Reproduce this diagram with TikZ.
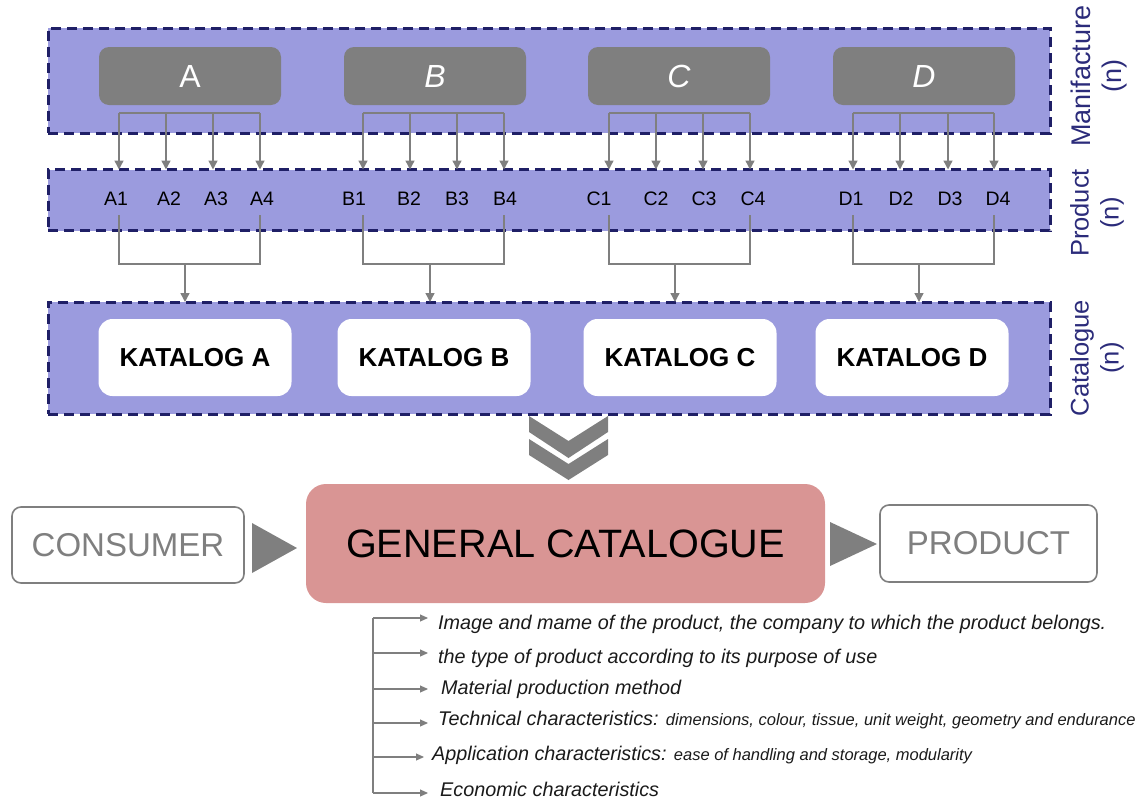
\documentclass[tikz,border=0pt]{standalone}
\usepackage{fontspec}
\setmainfont{Liberation Sans}
\usetikzlibrary{arrows.meta}
\definecolor{bandfill}{HTML}{9B9BDE}
\definecolor{navy}{HTML}{1F1F66}
\definecolor{boxgray}{HTML}{7F7F7F}
\definecolor{pinkfill}{HTML}{D99594}
\definecolor{sideblue}{HTML}{2B2B7A}
\definecolor{txt}{HTML}{1A1A1A}
\newcommand\smtxt[1]{{\fontsize{16.5}{19}\selectfont #1}}
\begin{document}
\begin{tikzpicture}[x=1pt,y=-1pt,
  band/.style={fill=bandfill, draw=navy, line width=3pt, dash pattern=on 10pt off 6pt, inner sep=0pt, minimum width=1002pt},
  mbox/.style={fill=boxgray, rounded corners=10pt, text=white, minimum width=182pt, minimum height=58pt, inner sep=0pt, font=\fontsize{32}{38}\selectfont},
  plbl/.style={anchor=base, inner sep=0pt, text=black, font=\fontsize{19.5}{23}\selectfont},
  conn/.style={draw=boxgray, line width=1.4pt},
  arr/.style={conn, -{Triangle[width=9pt,length=9pt]}},
  sarr/.style={conn, line width=1.1pt, -{Triangle[width=7pt,length=8pt]}},
  kbox/.style={fill=white, rounded corners=14pt, minimum width=193pt, minimum height=77pt, inner sep=0pt, text=black, font=\fontsize{26}{30}\selectfont\bfseries},
  side/.style={rotate=90, align=center, text=sideblue, font=\fontsize{25.5}{30}\selectfont},
  obox/.style={draw=boxgray, line width=1.6pt, fill=white, rounded corners=9pt, text=boxgray, inner sep=0pt, font=\fontsize{33}{38}\selectfont},
  item/.style={anchor=base west, inner sep=0pt, text=txt, font=\fontsize{19.8}{23}\selectfont\itshape}
]
\useasboundingbox (0,0) rectangle (1136,801);

% bands
\node[band, minimum height=105pt] (manband) at (549,80.5) {};
\node[band, minimum height=61pt] (prodband) at (549,200) {};
\node[band, minimum height=112pt] (catband) at (549,358) {};

% side labels
\node[side, font=\fontsize{27}{31}\selectfont] (lman) at (1099,76) {Manifacture\\(n)};
\node[side] (lprod) at (1097,213) {Product\\(n)};
\node[side] (lcat) at (1097,358) {Catalogue\\(n)};

% manufacturer boxes
\node[mbox] (A) at (190,76) {A};
\node[mbox] (B) at (435,76) {\itshape B};
\node[mbox] (C) at (679,76) {\itshape C};
\node[mbox] (D) at (924,76) {\itshape D};

% product labels
\foreach \n/\x in {A1/116,A2/169,A3/216,A4/262,B1/354,B2/409,B3/457,B4/505,C1/599,C2/656,C3/704,C4/753,D1/851,D2/901,D3/950,D4/998}
  \node[plbl] (\n) at (\x,205) {\n};

% fork coordinates and arrows
\foreach \L/\a/\b/\c/\d/\m in {A/119/166/213/260/185,B/363/410/457/504/430,C/609/656/703/750/675,D/853/900/948/994/919}{
  \coordinate (\L f1) at (\a,113);
  \coordinate (\L f4) at (\d,113);
  \draw[conn] (\L f1) -- (\L f4);
  \foreach \xx in {\a,\b,\c,\d}
    \draw[arr] (\xx,113) -- (\xx,169.5);
  \draw[conn] (\a,215) |- (\m,264) -| (\d,215);
  \coordinate (\L m) at (\m,264);
  \draw[arr] (\L m) -- (\m,302);
}

% catalogue boxes
\node[kbox] (KA) at (195,357.5) {KATALOG A};
\node[kbox] (KB) at (434,357.5) {KATALOG B};
\node[kbox] (KC) at (680,357.5) {KATALOG C};
\node[kbox] (KD) at (912,357.5) {KATALOG D};

% chevrons
\fill[boxgray] (529,416) -- (568.5,441) -- (608,416) -- (608,432) -- (568.5,458) -- (529,432) -- cycle;
\fill[boxgray] (529,439) -- (568.5,464) -- (608,439) -- (608,455) -- (568.5,480) -- (529,455) -- cycle;

% general catalogue
\node[fill=pinkfill, rounded corners=20pt, minimum width=519pt, minimum height=119pt, inner sep=0pt, text=black, font=\fontsize{39.6}{46}\selectfont] (GC) at (565.5,543.5) {GENERAL CATALOGUE};
\node[obox, minimum width=232pt, minimum height=76pt] (cons) at (128,545) {CONSUMER};
\node[obox, minimum width=217pt, minimum height=77pt] (prod) at (988.5,543.5) {PRODUCT};
\fill[boxgray] (252,523) -- (297,548) -- (252,573) -- cycle;
\fill[boxgray] (830,522) -- (877,544) -- (830,566) -- cycle;

% list
\coordinate (ltop) at (373,618);
\coordinate (lbot) at (373,793);
\draw[conn, line width=1.1pt] (ltop) -- (lbot);
\foreach \y/\t in {618/428,653/428,689/428,723/428,757/424,793/428}
  \draw[sarr] (373,\y) -- (\t,\y);
\node[item] (i1) at (438,629) {Image and mame of the product, the company to which the product belongs.};
\node[item] (i2) at (438,663.5) {the type of product according to its purpose of use};
\node[item] (i3) at (441,694.5) {Material production method};
\node[item] (i4) at (438,725.5) {Technical characteristics: \smtxt{dimensions, colour, tissue, unit weight, geometry and endurance}};
\node[item] (i5) at (432,760.5) {Application characteristics: \smtxt{ease of handling and storage, modularity}};
\node[item] (i6) at (440,796.5) {Economic characteristics};
\end{tikzpicture}
\end{document}
